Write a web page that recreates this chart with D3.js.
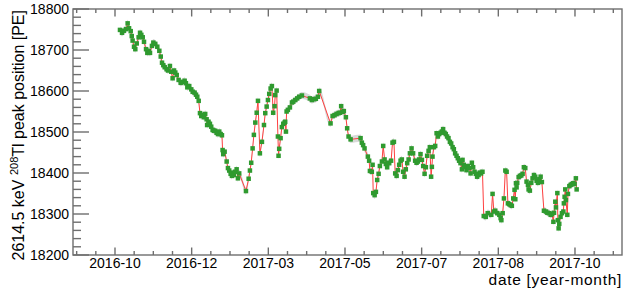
<!DOCTYPE html>
<html>
<head>
<meta charset="utf-8">
<script src="https://cdn.jsdelivr.net/npm/d3@7"></script>
<style>
  html, body { margin: 0; padding: 0; background: #fff; }
  svg { display: block; }
  text { font-family: "Liberation Sans", Arial, Helvetica, sans-serif; fill: #000; }
</style>
</head>
<body>
<svg id="chart" width="623" height="289"></svg>
<script>
// ---- data (days after the first labelled tick, peak position in PE) ----
const days = [
  3.9,5.5,7.0,8.6,9.9,11.0,12.3,13.1,13.8,14.9,15.9,17.0,18.5,19.6,20.6,21.7,22.7,24.3,25.3,26.4,
  27.4,28.9,30.0,31.5,33.1,34.7,35.8,36.8,37.8,38.9,40.4,41.5,43.0,44.0,45.1,46.2,47.2,48.3,49.8,
  51.4,53.0,54.5,55.5,56.6,58.1,59.7,60.8,62.3,63.4,64.4,65.5,66.5,67.5,68.6,69.6,70.6,71.7,72.1,
  73.2,74.3,75.3,76.4,77.4,78.4,79.5,80.6,81.6,82.7,83.7,84.2,84.7,85.8,87.4,88.4,89.4,90.5,91.5,
  92.1,93.1,94.1,95.2,96.2,97.2,102.5,104.6,105.6,106.6,
  107.7,108.7,109.8,110.9,111.9,113.4,115.0,116.6,117.6,118.7,119.7,120.7,121.8,122.8,123.8,124.9,
  125.4,126.5,127.5,128.0,128.5,129.6,130.6,131.7,132.8,133.2,133.8,134.3,135.3,136.9,138.5,139.5,
  141.1,142.6,144.2,146.3,152.5,154.1,155.7,157.2,158.8,159.8,
  168.7,170.3,171.8,173.4,175.0,176.0,177.0,178.1,179.1,180.7,181.7,182.8,184.4,192.2,193.2,194.2,
  195.3,197.9,198.9,199.5,201.0,201.6,202.1,203.2,204.2,205.2,206.3,207.3,208.9,209.9,211.0,212.0,
  213.0,213.6,214.6,216.1,217.2,218.3,219.3,220.4,221.4,222.4,223.5,224.5,225.5,226.6,227.6,228.7,
  229.8,230.8,
  232.1,233.3,234.9,236.0,237.0,238.0,239.1,240.2,241.2,242.3,243.3,244.3,245.4,246.4,247.4,248.0,
  248.5,249.6,250.6,251.7,252.7,253.7,254.8,255.8,256.8,257.9,258.9,259.9,261.0,262.1,263.1,264.2,
  265.2,266.2,267.3,268.3,269.3,270.4,271.5,272.0,273.0,274.0,275.1,276.2,277.2,278.3,279.3,280.3,
  281.4,282.4,283.4,284.5,285.5,286.5,287.6,288.6,290.2,291.7,
  294.5,295.5,296.5,297.6,299.2,300.8,301.8,302.4,303.4,304.4,305.5,306.5,307.5,308.6,309.6,310.6,
  311.7,312.7,313.3,313.8,314.3,314.8,315.9,316.9,318.0,319.0,320.0,321.1,322.1,323.2,323.7,324.7,
  325.8,326.8,327.9,328.9,330.0,331.0,332.1,333.1,334.1,335.7,337.3,338.4,339.9,341.0,342.0,343.1,
  343.6,344.6,345.1,346.2,346.6,347.2,347.7,348.7,349.8,350.9,351.3,351.9,352.4,352.9,354.0,354.5,
  355.6,356.6,357.6,358.7,359.7,360.7,361.3
];
const peakPE = [
  18749,18742,18747,18751,18765,18753,18746,18734,18723,18708,18702,18716,18731,18742,18737,18731,18720,18702,18693,18698,
  18693,18710,18718,18715,18708,18698,18684,18669,18663,18658,18653,18650,18661,18647,18631,18650,18645,18639,18627,
  18620,18622,18625,18619,18609,18612,18604,18598,18596,18591,18586,18576,18546,18539,18542,18536,18544,18531,18517,
  18525,18520,18513,18505,18503,18503,18498,18495,18501,18495,18492,18456,18446,18452,18428,18412,18406,18398,18393,
  18401,18395,18403,18409,18387,18399,18356,18386,18406,18425,
  18460,18493,18523,18547,18576,18448,18476,18517,18546,18562,18578,18593,18606,18612,18547,18563,
  18590,18601,18489,18442,18459,18485,18512,18520,18523,18525,18501,18550,18554,18560,18572,18574,
  18578,18582,18586,18589,18582,18578,18580,18581,18586,18600,
  18521,18539,18541,18544,18546,18547,18563,18549,18551,18536,18509,18489,18482,18485,18474,18468,
  18460,18440,18430,18405,18403,18420,18351,18346,18354,18383,18398,18417,18428,18466,18433,18422,
  18414,18425,18424,18430,18474,18476,18399,18393,18407,18420,18430,18433,18403,18391,18409,18424,
  18433,18448,
  18460,18448,18430,18425,18428,18433,18446,18432,18417,18398,18414,18442,18454,18463,18391,18415,
  18440,18463,18466,18497,18489,18495,18498,18501,18507,18498,18495,18489,18485,18476,18472,18463,
  18458,18448,18442,18436,18430,18424,18409,18432,18420,18415,18407,18417,18412,18399,18425,18414,
  18403,18398,18391,18395,18401,18399,18403,18295,18293,18302,
  18298,18349,18306,18308,18302,18298,18290,18285,18302,18338,18406,18403,18326,18324,18322,18320,
  18338,18359,18336,18375,18365,18376,18390,18393,18394,18398,18414,18412,18379,18371,18360,18357,
  18376,18387,18395,18391,18381,18376,18385,18391,18378,18308,18306,18303,18302,18298,18300,18281,
  18303,18330,18316,18351,18285,18265,18276,18293,18302,18306,18326,18342,18360,18334,18298,18349,
  18368,18371,18373,18375,18373,18387,18360
];
const xTickDays   = [0, 60, 120, 180, 240, 300, 360];
const xTickLabels = ["2016-10", "2016-12", "2017-03", "2017-05", "2017-07", "2017-08", "2017-10"];
const yTicks      = [18200, 18300, 18400, 18500, 18600, 18700, 18800];

// ---- layout ----
const L = 73, R = 622, T = 9, B = 255;
const svg = d3.select("#chart");
const x = d3.scaleLinear().domain([-32.87, 396.8]).range([L, R]);
const y = d3.scaleLinear().domain([18200, 18800]).range([B, T]);
const pts = days.map((d, i) => ({ d, v: peakPE[i] }));

const axisColor = "#6e6e6e";

// error band (drawn under the line)
const band = 3.6;
svg.append("path")
  .datum(pts)
  .attr("fill", "#c4c4c4")
  .attr("opacity", 0.65)
  .attr("d", d3.area().curve(d3.curveMonotoneX).x(p => x(p.d)).y0(p => y(p.v) - band).y1(p => y(p.v) + band));

// line
svg.append("path")
  .datum(pts)
  .attr("fill", "none")
  .attr("stroke", "#ff4040")
  .attr("stroke-width", 1)
  .attr("d", d3.line().x(p => x(p.d)).y(p => y(p.v)));

// markers
const ms = 4.5;
svg.append("g").selectAll("rect").data(pts).join("rect")
  .attr("x", p => x(p.d) - ms / 2)
  .attr("y", p => y(p.v) - ms / 2)
  .attr("width", ms).attr("height", ms)
  .attr("fill", "#2f9a2f");

// ---- frame & axes ----
const g = svg.append("g").attr("stroke", axisColor).attr("stroke-width", 1.4).attr("fill", "none");
g.append("rect").attr("x", L).attr("y", T).attr("width", R - L).attr("height", B - T);

// y ticks (inward)
const yMinor = d3.range(18200, 18801, 20);
yMinor.forEach(v => {
  const major = v % 100 === 0;
  g.append("line").attr("x1", L).attr("x2", L + (major ? 16 : 8))
    .attr("y1", y(v)).attr("y2", y(v));
});
// x ticks bottom and top
const xMinor = d3.range(-30, 391, 15);
xMinor.forEach(d => {
  const major = xTickDays.includes(d);
  const len = major ? 7.5 : 4;
  g.append("line").attr("x1", x(d)).attr("x2", x(d)).attr("y1", B).attr("y2", B - len);
  g.append("line").attr("x1", x(d)).attr("x2", x(d)).attr("y1", T).attr("y2", T + len);
});

// y tick labels
svg.append("g").selectAll("text").data(yTicks).join("text")
  .attr("x", 69).attr("y", v => y(v)).attr("dy", "0.36em")
  .attr("text-anchor", "end").attr("font-size", 14)
  .text(v => v);

// x tick labels
svg.append("g").selectAll("text").data(xTickDays).join("text")
  .attr("x", d => x(d)).attr("y", 267.8)
  .attr("text-anchor", "middle").attr("font-size", 14)
  .text((d, i) => xTickLabels[i]);

// axis titles
svg.append("text")
  .attr("x", R).attr("y", 285.2).attr("text-anchor", "end").attr("font-size", 15.5)
  .attr("letter-spacing", 0.7)
  .text("date [year-month]");

const yt = svg.append("text")
  .attr("transform", "translate(23.5,10) rotate(-90)")
  .attr("text-anchor", "end").attr("font-size", 16);
yt.append("tspan").text("2614.5 keV ");
yt.append("tspan").attr("font-size", 11).attr("dy", -6).text("208");
yt.append("tspan").attr("dy", 6).text("Tl peak position [PE]");
</script>
</body>
</html>
